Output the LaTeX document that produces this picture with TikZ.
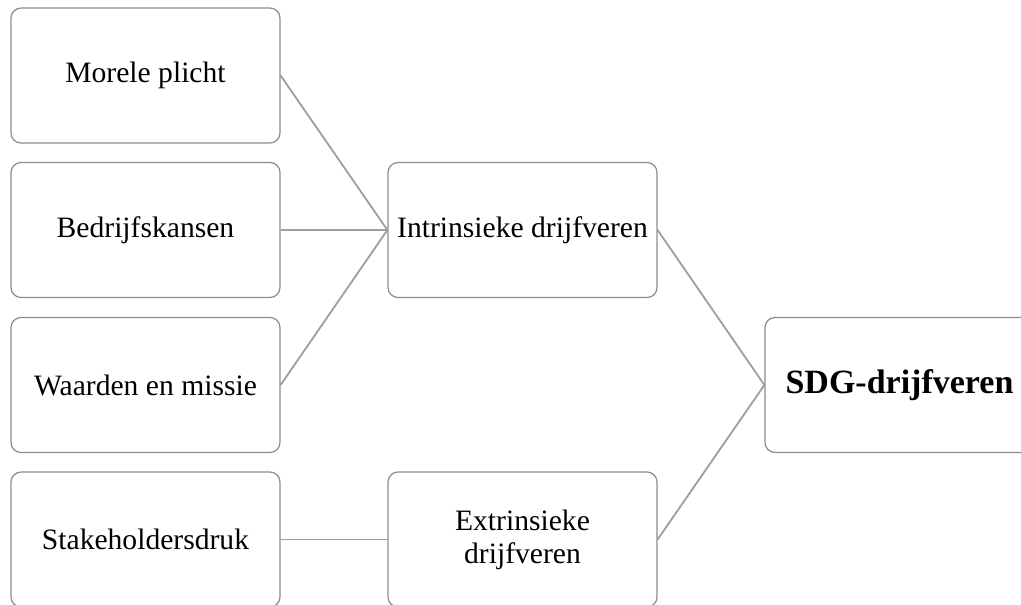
\documentclass[tikz,border=0pt]{standalone}
\usepackage{fontspec}
\setmainfont{Liberation Serif}
\definecolor{boxline}{HTML}{8C8C8C}
\definecolor{conn}{HTML}{9E9E9E}
\tikzset{
  box/.style={draw=boxline, line width=1.2pt, rounded corners=10pt, fill=white,
    minimum width=269pt, minimum height=135pt, inner sep=0pt, align=center,
    font=\fontsize{29.6}{33}\selectfont},
  conline/.style={draw=conn, line width=1.8pt}
}
\begin{document}
\begin{tikzpicture}[x=1pt,y=-1pt]
\useasboundingbox (0,0) rectangle (1021,605);
\node[box] (mp) at (145.5,75.5) {Morele plicht};
\node[box] (bk) at (145.5,230) {Bedrijfskansen};
\node[box] (wm) at (145.5,385) {Waarden en missie};
\node[box] (sd) at (145.5,539.5) {Stakeholdersdruk};
\node[box] (id) at (522.5,230) {Intrinsieke drijfveren};
\node[box] (ed) at (522.5,539.5) {Extrinsieke\\drijfveren};
\node[box, font=\fontsize{34}{38}\selectfont\bfseries] (sdg) at (899.5,385) {SDG-drijfveren};
\draw[conline] (mp.east) -- (id.west);
\draw[conline] (bk.east) -- (id.west);
\draw[conline] (wm.east) -- (id.west);
\draw[conline] (sd.east) -- (ed.west);
\draw[conline] (id.east) -- (sdg.west);
\draw[conline] (ed.east) -- (sdg.west);
\end{tikzpicture}
\end{document}
